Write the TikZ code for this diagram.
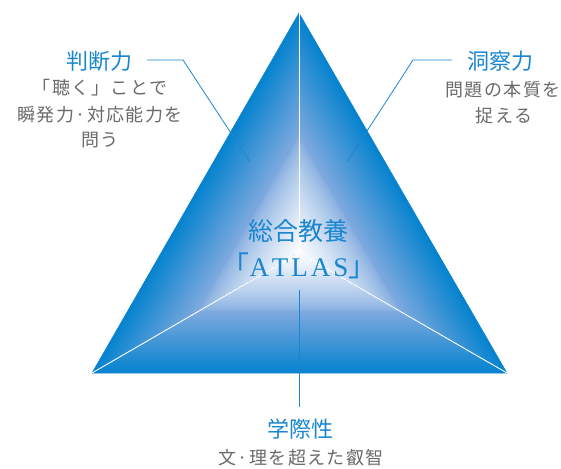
\documentclass[tikz,border=0pt]{standalone}
\usepackage{fontspec}
\setmainfont{Liberation Serif}
\newfontfamily\cjk{Noto Sans CJK JP}
\newfontfamily\cjkls{Noto Sans CJK JP}[LetterSpace=8]
\usetikzlibrary{calc}
\definecolor{edgeblue}{HTML}{0683CF}
\definecolor{midblue}{HTML}{7EA9DE}
\definecolor{txtblue}{HTML}{1A86CF}
\definecolor{txtgray}{HTML}{6A6A6A}
\begin{document}
\begin{tikzpicture}[x=1pt,y=-1pt,
  bluelabel/.style={inner sep=0pt,text=txtblue,font=\cjk\fontsize{22}{22}\selectfont},
  graytext/.style={inner sep=0pt,text=txtgray,font=\cjkls\fontsize{18}{18}\selectfont},
  centertext/.style={inner sep=0pt,text=txtblue,font=\cjk\fontsize{25}{25}\selectfont},
  leader/.style={draw=txtblue,line width=0.8pt},
  ray/.style={draw=white,line width=0.9pt}]
\useasboundingbox (0,0) rectangle (561,468);
\coordinate (A) at (299,13);
\coordinate (L) at (92,373);
\coordinate (R) at (507,373);
\coordinate (C) at (299,253);
% shaded sub-triangles
\foreach \P/\Q in {A/L, L/R, R/A}{
  \foreach \k in {0,...,59}{
    \pgfmathsetmacro\t{\k/60}
    \ifdim\t pt<0.5pt
      \pgfmathsetmacro\p{\t*200}
      \colorlet{sc}{midblue!\p!edgeblue}
    \else
      \pgfmathsetmacro\p{100*((\t-0.5)/0.5)^0.75}
      \colorlet{sc}{white!\p!midblue}
    \fi
    \fill[sc] ($(\P)!\t!(C)$) -- ($(\Q)!\t!(C)$) -- (C) -- cycle;
  }
}
\draw[edgeblue,line width=0.5pt] (A) -- (L) -- (R) -- cycle;
\draw[ray] (C) -- (A);
\draw[ray] (C) -- (L);
\draw[ray] (C) -- (R);
% texts
\node[bluelabel] (n1) at (99,61) {判断力};
\node[graytext] (g1a) at (100,88) {「聴く」ことで};
\node[graytext] (g1b) at (100,115) {瞬発力·対応能力を};
\node[graytext] (g1c) at (100,140) {問う};
\node[bluelabel] (n2) at (500,61) {洞察力};
\node[graytext] (g2a) at (503,90) {問題の本質を};
\node[graytext] (g2b) at (504,116) {捉える};
\node[centertext] (c1) at (298,231) {総合教養};
\node[centertext] (c2) at (299,266) {{\fontsize{28}{28}\selectfont 「}{\rmfamily\fontsize{27}{27}\selectfont A\kern3pt T\kern3pt L\kern3pt A\kern3pt S}{\fontsize{28}{28}\selectfont 」}};
\node[bluelabel] (n3) at (300,429) {学際性};
\node[graytext] (g3) at (301,458) {文·理を超えた叡智};
% leaders
\coordinate (l1) at (147,60); \coordinate (l2) at (183,60); \coordinate (l3) at (250,162);
\coordinate (r1) at (452,60); \coordinate (r2) at (413,60); \coordinate (r3) at (347,162);
\coordinate (b1) at (299,290); \coordinate (b2) at (299,407);
\draw[leader] (l1) -- (l2) -- (l3);
\draw[leader] (r1) -- (r2) -- (r3);
\draw[leader] (b1) -- (b2);
\end{tikzpicture}
\end{document}
